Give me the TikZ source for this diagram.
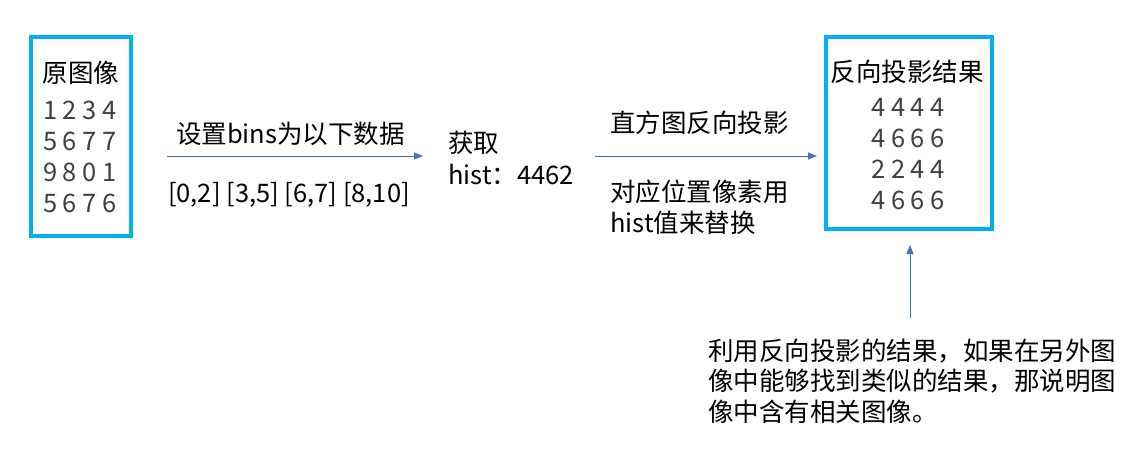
\documentclass[tikz,border=0pt]{standalone}
\usepackage{fontspec}
\setmainfont{Noto Sans CJK SC}
\usetikzlibrary{arrows.meta,positioning}
\definecolor{mycyan}{RGB}{0,176,240}
\definecolor{myblue}{RGB}{68,114,196}
\definecolor{mygray}{RGB}{64,64,64}
\begin{document}
\begin{tikzpicture}[
  x=1pt, y=-1pt,
  mybox/.style={
    draw=mycyan,
    line width=4pt,
    rectangle,
    inner sep=0pt
    },
  myarrow/.style={
    draw=myblue,
    line width=1pt,
    -{Triangle[length=9pt,width=7pt]}
    },
  mytext/.style={
    font=\fontsize{25.5}{30.5}\selectfont,
    inner sep=0pt
    },
  mynum/.style={
    mytext,
    text=mygray
  }
]
\useasboundingbox (0,0) rectangle (1138,463);

\node[mybox, minimum width=100pt, minimum height=199pt] (orig) at (81,136.5) {};
\node[mytext] (origtitle) at (81,73) {原图像};
\foreach \Row [count=\Rowi from 0] in {1 2 3 4,5 6 7 7,9 8 0 1,5 6 7 6}
  \node[mynum] (orig\Rowi) at (80,110+31*\Rowi) {\Row};

\node[mybox, minimum width=166pt, minimum height=192pt] (res) at (909,133) {};
\node[mytext] (restitle) at (907,72) {反向投影结果};
\foreach \Row [count=\Rowi from 0] in {4 4 4 4,4 6 6 6,2 2 4 4,4 6 6 6}
  \node[mynum] (res\Rowi) at (908,107+31*\Rowi) {\Row};

\coordinate (binsstart) at (167,156);
\coordinate (binsend) at (423,156);
\draw[myarrow] (binsstart) -- (binsend);
\node[mytext] (binslabel) at (290.5,134) {设置bins为以下数据};
\node[mytext] (binsdata) at (289,195) {[0,2] [3,5] [6,7] [8,10]};

\node[mytext, anchor=west] (get) at (448,143) {获取};
\node[mytext, anchor=west] (hist) at (448,175) {hist：4462};

\coordinate (backstart) at (595,156);
\draw[myarrow, shorten >=7pt] (backstart) -- (res.west |- backstart);
\node[mytext, anchor=west] (backlabel) at (610,123) {直方图反向投影};
\node[mytext, anchor=west, align=left] (replace) at (610,207) {对应位置像素用\\hist值来替换};

\coordinate (notestart) at (910,318);
\draw[myarrow, shorten >=14pt] (notestart) -- (res.south -| notestart);
\node[mytext, anchor=west, align=left] (note) at (708,381)
  {利用反向投影的结果，如果在另外图\\像中能够找到类似的结果，那说明图\\像中含有相关图像。};

\end{tikzpicture}
\end{document}
